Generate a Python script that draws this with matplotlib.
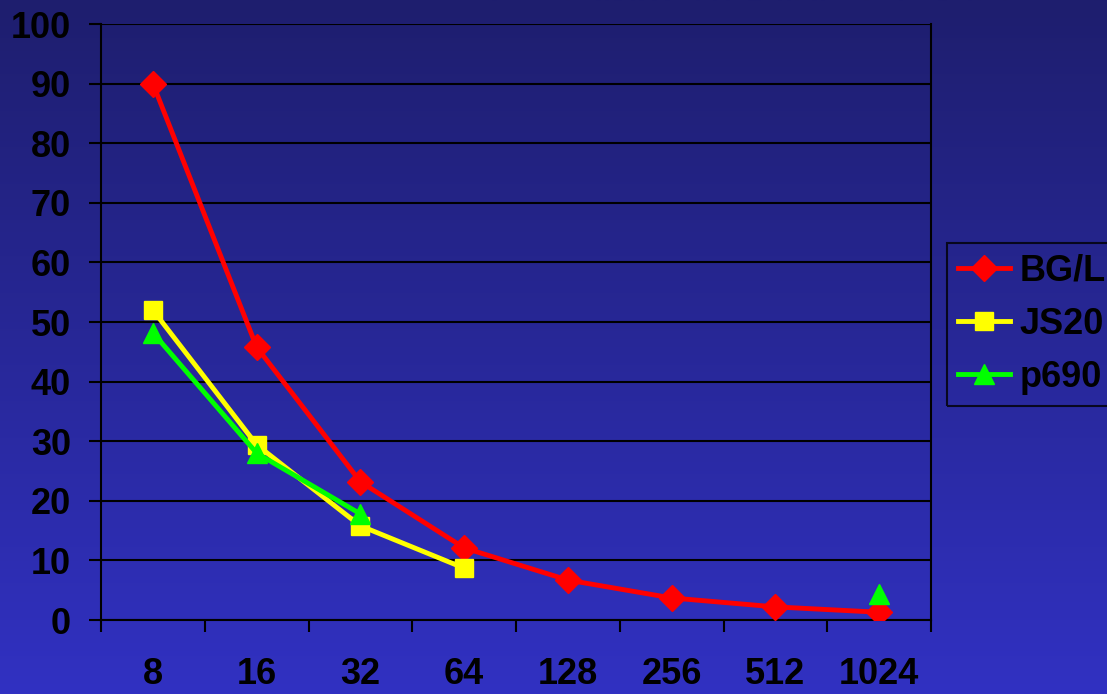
import matplotlib.pyplot as plt
import numpy as np

# data
categories = ['8', '16', '32', '64', '128', '256', '512', '1024']
bgl = [90, 45.8, 23.2, 12.1, 6.7, 3.7, 2.2, 1.3]
js20 = [52, 29.4, 15.8, 8.7, np.nan, np.nan, np.nan, np.nan]
p690 = [48.2, 28, 17.8, np.nan, np.nan, np.nan, np.nan, 4.3]

plt.rcParams['font.family'] = ['Liberation Sans', 'DejaVu Sans']
plt.rcParams['font.weight'] = 'bold'

fig = plt.figure(figsize=(11.07, 6.94), dpi=100)

# gradient background
bg = fig.add_axes([0, 0, 1, 1], zorder=-10)
top = np.array([30, 30, 110]) / 255
bot = np.array([49, 49, 194]) / 255
t = np.linspace(0, 1, 256)[:, None]
grad = (top * (1 - t) + bot * t)[:, None, :]
bg.imshow(grad, aspect='auto', extent=[0, 1, 0, 1])
bg.axis('off')

ax = fig.add_axes([101 / 1107, 1 - 620 / 694, 830 / 1107, 596 / 694])
ax.patch.set_alpha(0)

x = np.arange(len(categories))
ax.plot(x, bgl, color='#ff0000', lw=3.5, marker='D', ms=13, label='BG/L', zorder=3)
ax.plot(x, js20, color='#ffff00', lw=3.5, marker='s', ms=13, label='JS20', zorder=4)
ax.plot(x, p690, color='#00ff00', lw=3.5, marker='^', ms=15, label='p690', zorder=5)

ax.set_xlim(-0.5, len(categories) - 0.5)
ax.set_ylim(0, 100)
ax.set_yticks(np.arange(0, 101, 10))
ax.set_xticks(x)
ax.set_xticklabels(categories)
ax.set_xticks(np.arange(-0.5, len(categories)), minor=True)
ax.tick_params(axis='x', which='major', length=0, pad=27, labelsize=26)
ax.tick_params(axis='x', which='minor', length=8.6, width=1.5, color='black')
ax.tick_params(axis='y', length=8.6, width=1.5, pad=13, labelsize=26)
ax.grid(axis='y', color='black', lw=1.5)
for s in ['left', 'bottom', 'right']:
    ax.spines[s].set_linewidth(1.5)
ax.spines['top'].set_visible(False)

leg = ax.legend(loc='upper left', bbox_to_anchor=(947 / 1107, 1 - 243 / 694),
                bbox_transform=fig.transFigure, fontsize=26, frameon=True,
                fancybox=False, borderpad=0.3, handlelength=1.45, labelspacing=0.5,
                handletextpad=0.25, borderaxespad=0)
leg.get_frame().set_facecolor('none')
leg.get_frame().set_edgecolor('black')
leg.get_frame().set_linewidth(1.5)

fig.savefig('out.png', dpi=100)
